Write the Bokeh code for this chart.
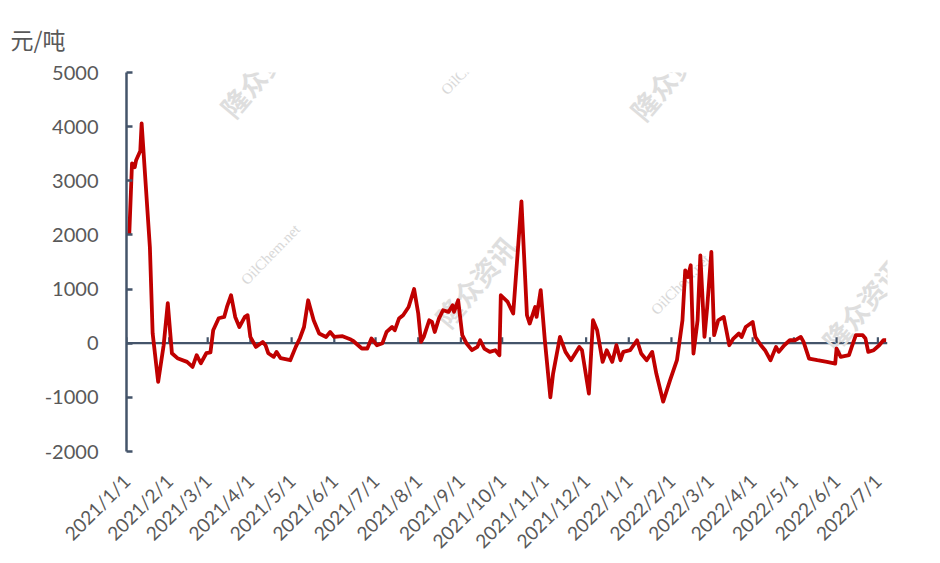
import pandas as pd
from math import pi
from bokeh.plotting import figure
from bokeh.models import FixedTicker, Label, Span, Range1d
from bokeh.embed import file_html
from bokeh.resources import INLINE

# ---------------- data ----------------
dates = [
    "2021-01-03", "2021-01-05", "2021-01-07", "2021-01-08", "2021-01-11", "2021-01-12",
    "2021-01-18", "2021-01-20", "2021-01-24", "2021-01-28", "2021-01-31", "2021-02-03",
    "2021-02-07", "2021-02-14", "2021-02-18", "2021-02-21", "2021-02-24", "2021-02-28",
    "2021-03-03", "2021-03-05", "2021-03-09", "2021-03-13", "2021-03-15", "2021-03-18",
    "2021-03-21", "2021-03-24", "2021-03-28", "2021-03-30", "2021-04-01", "2021-04-05",
    "2021-04-10", "2021-04-12", "2021-04-14", "2021-04-18", "2021-04-20", "2021-04-23",
    "2021-04-30", "2021-05-04", "2021-05-07", "2021-05-10", "2021-05-13", "2021-05-17",
    "2021-05-21", "2021-05-26", "2021-05-29", "2021-06-01", "2021-06-07", "2021-06-13",
    "2021-06-15", "2021-06-21", "2021-06-25", "2021-06-28", "2021-07-02", "2021-07-06",
    "2021-07-09", "2021-07-13", "2021-07-15", "2021-07-18", "2021-07-21", "2021-07-25",
    "2021-07-29", "2021-08-01", "2021-08-03", "2021-08-05", "2021-08-09", "2021-08-11",
    "2021-08-13", "2021-08-16", "2021-08-19", "2021-08-23", "2021-08-26", "2021-08-27",
    "2021-08-30", "2021-09-02", "2021-09-05", "2021-09-09", "2021-09-13", "2021-09-15",
    "2021-09-18", "2021-09-22", "2021-09-26", "2021-09-29", "2021-09-30", "2021-10-05",
    "2021-10-09", "2021-10-15", "2021-10-19", "2021-10-21", "2021-10-25", "2021-10-26",
    "2021-10-29", "2021-11-01", "2021-11-05", "2021-11-07", "2021-11-12", "2021-11-16",
    "2021-11-20", "2021-11-26", "2021-11-28", "2021-12-03", "2021-12-06", "2021-12-09",
    "2021-12-13", "2021-12-16", "2021-12-20", "2021-12-23", "2021-12-26", "2021-12-28",
    "2022-01-02", "2022-01-07", "2022-01-10", "2022-01-14", "2022-01-18", "2022-01-21",
    "2022-01-26", "2022-01-31", "2022-02-05", "2022-02-09", "2022-02-11", "2022-02-13",
    "2022-02-15", "2022-02-17", "2022-02-20", "2022-02-22", "2022-02-25", "2022-02-27",
    "2022-03-02", "2022-03-04", "2022-03-07", "2022-03-11", "2022-03-15", "2022-03-18",
    "2022-03-22", "2022-03-24", "2022-03-27", "2022-04-01", "2022-04-03", "2022-04-07",
    "2022-04-10", "2022-04-14", "2022-04-18", "2022-04-20", "2022-04-24", "2022-04-28",
    "2022-05-02", "2022-05-06", "2022-05-08", "2022-05-12", "2022-05-18", "2022-05-25",
    "2022-05-31", "2022-06-01", "2022-06-04", "2022-06-10", "2022-06-12", "2022-06-15",
    "2022-06-20", "2022-06-22", "2022-06-24", "2022-06-28", "2022-07-02", "2022-07-05",
    "2022-07-07",
]
values = [
    2000, 3320, 3250, 3380, 3550, 4060,
    1770, 185, -714, -37, 738, -185,
    -277, -345, -437, -221, -370, -185,
    -170, 240, 461, 485, 670, 886,
    485, 300, 485, 517, 116, -68,
    24, -37, -185, -252, -160, -277,
    -314, -68, 92, 300, 793, 424,
    179, 116, 208, 116, 129, 68,
    37, -98, -98, 86, -37, 0,
    208, 300, 240, 455, 517, 670,
    1000, 548, 24, 116, 424, 393,
    208, 455, 609, 578, 701, 578,
    793, 148, 0, -129, -68, 55,
    -98, -160, -129, -221, 886, 762,
    548, 2620, 517, 363, 670, 485,
    980, 55, -1000, -560, 116, -160,
    -314, -68, -129, -930, 424, 240,
    -345, -129, -345, -37, -314, -160,
    -129, 55, -190, -314, -160, -560,
    -1080, -683, -314, 424, 1347, 1224,
    1440, -190, 424, 1624, 116, 670,
    1685, 148, 424, 485, -37, 86,
    179, 116, 300, 393, 116, -37,
    -129, -314, -68, -160, -37, 55,
    55, 116, 24, -283, -314, -345,
    -375, -98, -252, -221, -68, 148,
    148, 86, -160, -129, -37, 55,
    55,
]
month_ticks = [
    "2021-01-01", "2021-02-01", "2021-03-01", "2021-04-01", "2021-05-01", "2021-06-01",
    "2021-07-01", "2021-08-01", "2021-09-01", "2021-10-01", "2021-11-01", "2021-12-01",
    "2022-01-01", "2022-02-01", "2022-03-01", "2022-04-01", "2022-05-01", "2022-06-01",
    "2022-07-01",
]
y_ticks = [-2000, -1000, 0, 1000, 2000, 3000, 4000, 5000]
y_min, y_max = -2000, 5000
x_start, x_end = "2021-01-01", "2022-07-08"
unit_text = "元/吨"
wm_cn = "隆众资讯"
wm_en = "OilChem.net"

# ---------------- layout ----------------
W, H = 940, 563
BL, BR, BT, BB = 126, 53, 72, 111          # borders around the frame
FRAME_H = H - BT - BB

x = pd.to_datetime(dates)
tick_ts = pd.to_datetime(month_ticks)
tick_ms = [float(t.value // 10**6) for t in tick_ts]
tick_lbl = {ms: f"{t.year}/{t.month}/{t.day}" for ms, t in zip(tick_ms, tick_ts)}

p = figure(width=W, height=H, x_axis_type="datetime", output_backend="svg",
           toolbar_location=None,
           x_range=Range1d(pd.Timestamp(x_start), pd.Timestamp(x_end)),
           y_range=Range1d(y_min, y_max),
           min_border_left=BL, min_border_right=BR, min_border_top=BT, min_border_bottom=BB)
p.outline_line_color = None
p.xgrid.visible = False
p.ygrid.visible = False
p.background_fill_color = "white"
p.border_fill_color = "white"

AX = "#44546A"
LBL = "#595959"
FONT = "Lato"

# y axis
ya = p.yaxis[0]
ya.ticker = FixedTicker(ticks=y_ticks)
ya.major_label_overrides = {float(v): str(v) for v in y_ticks}
ya.axis_line_color = AX
ya.axis_line_width = 2.5
ya.major_tick_line_color = AX
ya.major_tick_line_width = 2.5
ya.major_tick_in = 6
ya.major_tick_out = 0
ya.minor_tick_line_color = None
ya.major_label_text_font = FONT
ya.major_label_text_font_size = "20px"
ya.major_label_text_color = LBL
ya.major_label_standoff = 28

# bottom axis: labels only
xa = p.xaxis[0]
xa.ticker = FixedTicker(ticks=tick_ms)
xa.major_label_overrides = tick_lbl
xa.axis_line_color = None
xa.major_tick_line_color = None
xa.minor_tick_line_color = None
xa.major_tick_in = 0
xa.major_tick_out = 0
xa.major_label_orientation = pi / 4
xa.major_label_text_font = FONT
xa.major_label_text_font_size = "19px"
xa.major_label_text_color = LBL
xa.major_label_standoff = 26

# zero line with upward month ticks
p.add_layout(Span(location=0, dimension="width", line_color=AX, line_width=2.2, level="underlay"))
tick_len = 6 * (y_max - y_min) / FRAME_H
p.segment(x0=tick_ts, y0=[0] * len(tick_ts), x1=tick_ts, y1=[tick_len] * len(tick_ts),
          line_color=AX, line_width=2.2)

# series
p.line(x, values, line_color="#C00000", line_width=3.8, line_join="round")

# unit label as title at the top-left
p.title.text = unit_text
p.title.align = "left"
p.title.vertical_align = "top"
p.title.offset = 10 - BL
p.title.text_font = "Noto Sans CJK SC"
p.title.text_font_style = "normal"
p.title.text_font_size = "23px"
p.title.text_color = LBL
p.title.standoff = 30

# watermarks (page coords -> frame-relative screen coords)
wm_cn_pos = [(260, 72), (670, 75), (475, 282), (862, 305)]
wm_en_pos = [(470, 65), (270, 255), (680, 285)]
for px, py in wm_cn_pos:
    p.add_layout(Label(x=px - BL, y=(H - BB) - py, x_units="screen", y_units="screen", text=wm_cn,
                       text_font="Noto Sans CJK SC", text_font_style="bold", text_font_size="27px",
                       text_color="#dedede", angle=0.87, text_align="center",
                       text_baseline="middle", level="underlay"))
for px, py in wm_en_pos:
    p.add_layout(Label(x=px - BL, y=(H - BB) - py, x_units="screen", y_units="screen", text=wm_en,
                       text_font="Liberation Serif", text_font_size="15px",
                       text_color="#d8d8d8", angle=0.8, text_align="center",
                       text_baseline="middle", level="underlay"))

open("out.html", "w").write(file_html(p, INLINE))
